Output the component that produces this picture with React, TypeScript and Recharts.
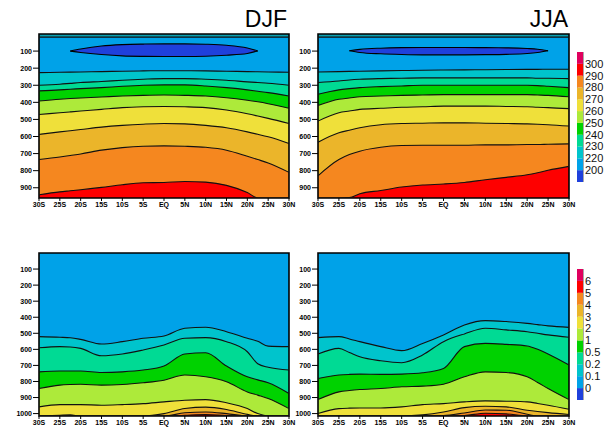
import React from 'react'
import { ComposedChart, Area, Line, XAxis, YAxis, ReferenceArea, BarChart, Bar } from 'recharts'

// latitude columns (negative = south)
const lats = [-30, -25, -22.5, -20, -15, -10, -5, 0, 5, 10, 15, 20, 22.5, 25, 30]
const latTicks = [-30, -25, -20, -15, -10, -5, 0, 5, 10, 15, 20, 25, 30]
const latLabels = ['30S', '25S', '20S', '15S', '10S', '5S', 'EQ', '5N', '10N', '15N', '20N', '25N', '30N']

const tempTicks = [100, 200, 300, 400, 500, 600, 700, 800, 900]
const precTicks = [100, 200, 300, 400, 500, 600, 700, 800, 900, 1000]

// DJF temperature contours (pressure in hPa of each isotherm)
const djfTop = [18, 18, 18, 18, 18, 18, 18, 18, 18, 18, 18, 18, 18, 18, 18]
const djf220 = [226, 224, 223, 222, 220, 218, 216, 215, 215, 216, 218, 220, 221, 222, 224]
const djf230 = [300, 294, 289, 284, 278, 271, 265, 261, 261, 265, 271, 280, 284, 288, 300]
const djf240 = [333, 327, 323, 320, 314, 306, 300, 298, 298, 304, 314, 327, 335, 343, 363]
const djf250 = [392, 382, 378, 375, 369, 363, 359, 357, 359, 363, 373, 388, 397, 408, 435]
const djf260 = [471, 461, 456, 451, 441, 431, 426, 424, 426, 431, 445, 467, 480, 494, 524]
const djf270 = [588, 573, 566, 559, 545, 535, 528, 524, 526, 535, 549, 573, 587, 602, 641]
const djf280 = [735, 720, 711, 702, 680, 665, 657, 655, 657, 663, 680, 716, 735, 755, 810]
const djf290 = [941, 924, 918, 912, 898, 882, 871, 869, 863, 867, 886, 928, 960, 960, 960]
const djfColdLo = [null, null, 100, 88, 70, 62, 59, 58, 58, 60, 66, 82, 99, null, null]
const djfColdHi = [null, null, 100, 108, 120, 128, 131, 132, 132, 130, 124, 114, 99, null, null]

// JJA temperature contours
const jjaTop = [18, 18, 18, 18, 18, 18, 18, 18, 18, 18, 18, 18, 18, 18, 18]
const jja220 = [222, 220, 219, 218, 216, 214, 212, 211, 210, 209, 208, 207, 207, 206, 206]
const jja230 = [284, 275, 269, 265, 261, 259, 257, 257, 257, 257, 257, 257, 259, 259, 261]
const jja240 = [353, 327, 320, 314, 308, 304, 300, 300, 300, 300, 300, 300, 302, 306, 314]
const jja250 = [418, 382, 375, 367, 363, 359, 357, 355, 355, 355, 355, 355, 357, 359, 367]
const jja260 = [510, 461, 451, 441, 435, 429, 426, 422, 422, 422, 424, 426, 429, 431, 437]
const jja270 = [633, 578, 563, 549, 531, 524, 522, 520, 520, 522, 524, 526, 528, 531, 539]
const jja280 = [830, 735, 706, 686, 663, 653, 651, 651, 651, 649, 649, 647, 647, 645, 643]
const jja290 = [960, 960, 958, 935, 916, 896, 884, 878, 869, 853, 839, 824, 812, 798, 775]
const jjaColdLo = [null, null, 98, 90, 83, 80, 79, 79, 79, 80, 81, 85, 89, 98, null]
const jjaColdHi = [null, null, 98, 108, 116, 120, 122, 122, 122, 121, 119, 114, 108, 98, null]

// DJF precipitation-like field contours
const djfP01 = [521, 525, 528, 538, 567, 552, 531, 517, 469, 462, 490, 531, 550, 580, 583]
const djfP02 = [590, 583, 585, 594, 640, 629, 604, 573, 531, 527, 552, 615, 690, 712, 729]
const djfP05 = [740, 735, 735, 735, 744, 740, 729, 704, 629, 621, 704, 771, 790, 808, 875]
const djfP1 = [844, 823, 819, 817, 823, 819, 808, 792, 760, 771, 802, 865, 885, 906, 969]
const djfP2 = [958, 944, 944, 944, 948, 944, 938, 927, 917, 913, 933, 969, 1000, 1015, 1015]
const djfP3 = [1015, 1010, 1008, 1015, 1015, 1015, 1015, 1000, 968, 960, 975, 1005, 1015, 1015, 1015]
const djfP4 = [1015, 1015, 1015, 1015, 1015, 1015, 1015, 1015, 995, 990, 1000, 1015, 1015, 1015, 1015]
const djfP5 = [1015, 1015, 1015, 1015, 1015, 1015, 1015, 1015, 1010, 1006, 1012, 1015, 1015, 1015, 1015]

// JJA
const jjaP01 = [527, 521, 535, 552, 583, 608, 563, 510, 448, 421, 427, 438, 446, 454, 463]
const jjaP02 = [629, 594, 620, 646, 671, 683, 635, 552, 504, 469, 479, 490, 500, 510, 525]
const jjaP05 = [781, 760, 756, 754, 756, 754, 746, 719, 583, 563, 569, 579, 600, 629, 698]
const jjaP1 = [913, 865, 856, 850, 844, 833, 829, 817, 771, 740, 744, 771, 806, 844, 913]
const jjaP2 = [1000, 969, 966, 965, 965, 958, 944, 938, 927, 921, 923, 927, 937, 948, 973]
const jjaP3 = [1015, 1015, 1015, 1015, 1015, 1015, 1008, 990, 963, 954, 958, 979, 987, 994, 1006]
const jjaP4 = [1015, 1015, 1015, 1015, 1015, 1015, 1015, 1012, 996, 978, 979, 1004, 1015, 1015, 1015]
const jjaP5 = [1015, 1015, 1015, 1015, 1015, 1015, 1015, 1015, 1012, 998, 1002, 1015, 1015, 1015, 1015]

// colour bar labels, bottom to top
const tempBarLabels = ['200', '220', '230', '240', '250', '260', '270', '280', '290', '300']
const precBarLabels = ['0', '0.1', '0.2', '0.5', '1', '2', '3', '4', '5', '6']

const C = {
  blue: '#1f40dc',
  lblue: '#00a2e8',
  turq: '#00c4cc',
  spring: '#00da94',
  green: '#00d200',
  yg: '#adea3a',
  yellow: '#efe03a',
  gold: '#ebb52a',
  orange: '#f5871f',
  red: '#fe0000',
  magenta: '#e0005e',
}
const barColors = [C.blue, C.lblue, C.turq, C.spring, C.green, C.yg, C.yellow, C.gold, C.orange, C.red, C.magenta]

const tempBands = ['#0a9fb0', C.lblue, C.turq, C.spring, C.green, C.yg, C.yellow, C.gold, C.orange, C.red]
const precBands = [C.lblue, C.turq, C.spring, C.green, C.yg, C.yellow, C.gold, C.orange, C.red]

function rows(series: Record<string, (number | null)[]>) {
  return lats.map((lat, i) => {
    const r: any = { lat }
    Object.keys(series).forEach((k) => (r[k] = series[k][i]))
    return r
  })
}

const djfTemp = rows({ a: djfTop, b: djf220, c: djf230, d: djf240, e: djf250, f: djf260, g: djf270, h: djf280, i: djf290, lo: djfColdLo, hi: djfColdHi })
const jjaTemp = rows({ a: jjaTop, b: jja220, c: jja230, d: jja240, e: jja250, f: jja260, g: jja270, h: jja280, i: jja290, lo: jjaColdLo, hi: jjaColdHi })
const djfPrec = rows({ a: djfP01, b: djfP02, c: djfP05, d: djfP1, e: djfP2, f: djfP3, g: djfP4, h: djfP5 })
const jjaPrec = rows({ a: jjaP01, b: jjaP02, c: jjaP05, d: jjaP1, e: jjaP2, f: jjaP3, g: jjaP4, h: jjaP5 })

const tempKeys = ['a', 'b', 'c', 'd', 'e', 'f', 'g', 'h', 'i']
const precKeys = ['a', 'b', 'c', 'd', 'e', 'f', 'g', 'h']

const tickFont = { fontSize: 7, fontWeight: 700, fill: '#000', fontFamily: 'Liberation Sans, Arial, sans-serif' }

interface PanelProps {
  data: any[]
  keys: string[]
  bands: string[]
  bottom: number
  yTicks: number[]
  cold?: boolean
  left: number
  top: number
  height: number
  rightMargin: number
}

function Panel({ data, keys, bands, bottom, yTicks, cold, left, top, height, rightMargin }: PanelProps) {
  const n = keys.length
  const order = keys.map((k, i) => i).reverse()
  return (
    <div style={{ position: 'absolute', left, top }}>
      <ComposedChart width={300} height={height} data={data} margin={{ top: 34, right: rightMargin, bottom: height === 215 ? 2 : 0, left: 0 }}>
        <XAxis
          dataKey="lat"
          type="number"
          domain={[-30, 30]}
          ticks={latTicks}
          interval={0}
          tickFormatter={(v) => latLabels[latTicks.indexOf(v)]}
          tick={tickFont}
          tickSize={3}
          tickMargin={1}
          height={height === 215 ? 15 : 13}
          axisLine={false}
          stroke="#000"
        />
        <YAxis
          type="number"
          reversed
          domain={[0, bottom]}
          allowDataOverflow
          ticks={yTicks}
          interval={0}
          tick={tickFont}
          tickSize={6}
          tickMargin={1}
          width={39}
          axisLine={false}
          stroke="#000"
        />
        {/* deepest band as background */}
        <Area dataKey={() => [0, bottom]} type="monotone" fill={bands[n]} fillOpacity={1} stroke="none" isAnimationActive={false} />
        {order.map((i) => (
          <Area
            key={'band' + keys[i]}
            dataKey={(d: any) => (d[keys[i]] == null ? null : [0, d[keys[i]]])}
            type="monotone"
            fill={bands[i]}
            fillOpacity={1}
            stroke="none"
            isAnimationActive={false}
          />
        ))}
        {cold && (
          <Area
            dataKey={(d: any) => (d.lo == null ? null : [d.lo, d.hi])}
            type="monotone"
            fill={C.blue}
            fillOpacity={1}
            stroke="#000"
            strokeWidth={1.1}
            isAnimationActive={false}
          />
        )}
        {keys.map((k) => (
          <Line key={'line' + k} dataKey={k} type="monotone" stroke="#111" strokeWidth={1.1} dot={false} isAnimationActive={false} />
        ))}
        <ReferenceArea x1={-30} x2={30} y1={0} y2={bottom} fill="none" stroke="#000" strokeWidth={1.6} />
      </ComposedChart>
    </div>
  )
}

function ColorBar({ labels, top, height }: { labels: string[]; top: number; height: number }) {
  const row: any = { name: 'bar' }
  barColors.forEach((c, i) => (row['k' + i] = 1))
  return (
    <div style={{ position: 'absolute', left: 577, top }}>
      <BarChart width={36} height={height} data={[row]} margin={{ top: 0, right: 0, bottom: 0, left: 0 }} barCategoryGap={0}>
        <XAxis dataKey="name" hide />
        <YAxis
          orientation="right"
          type="number"
          domain={[0, 11]}
          ticks={[1, 2, 3, 4, 5, 6, 7, 8, 9, 10]}
          interval={0}
          tickFormatter={(v) => labels[v - 1]}
          tick={{ fontSize: 11, fill: '#111', fontFamily: 'Liberation Sans, Arial, sans-serif' }}
          tickLine={false}
          tickSize={0}
          tickMargin={2}
          axisLine={false}
          width={30}
        />
        {barColors.map((c, i) => (
          <Bar key={i} dataKey={'k' + i} stackId="s" fill={c} isAnimationActive={false} />
        ))}
        <ReferenceArea y1={0} y2={11} fill="none" stroke="#555" strokeWidth={1} />
      </BarChart>
    </div>
  )
}

const titleStyle: React.CSSProperties = {
  position: 'absolute',
  top: 8,
  width: 120,
  textAlign: 'right',
  fontFamily: 'Liberation Sans, Arial, sans-serif',
  fontSize: 23,
  lineHeight: '23px',
  color: '#000',
}

export default function App() {
  return (
    <div style={{ position: 'absolute', left: 0, top: 0, width: 613, height: 429, background: '#fff', overflow: 'hidden' }}>
      <div style={{ ...titleStyle, left: 287 - 120 }}>DJF</div>
      <div style={{ ...titleStyle, left: 568 - 120 }}>JJA</div>
      <Panel data={djfTemp} keys={tempKeys} bands={tempBands} bottom={960} yTicks={tempTicks} cold left={0} top={0} height={215} rightMargin={11} />
      <Panel data={jjaTemp} keys={tempKeys} bands={tempBands} bottom={960} yTicks={tempTicks} cold left={279} top={0} height={215} rightMargin={10} />
      <Panel data={djfPrec} keys={precKeys} bands={precBands} bottom={1015} yTicks={precTicks} left={0} top={219} height={210} rightMargin={11} />
      <Panel data={jjaPrec} keys={precKeys} bands={precBands} bottom={1015} yTicks={precTicks} left={279} top={219} height={210} rightMargin={10} />
      <ColorBar labels={tempBarLabels} top={52} height={130} />
      <ColorBar labels={precBarLabels} top={269} height={131} />
    </div>
  )
}
